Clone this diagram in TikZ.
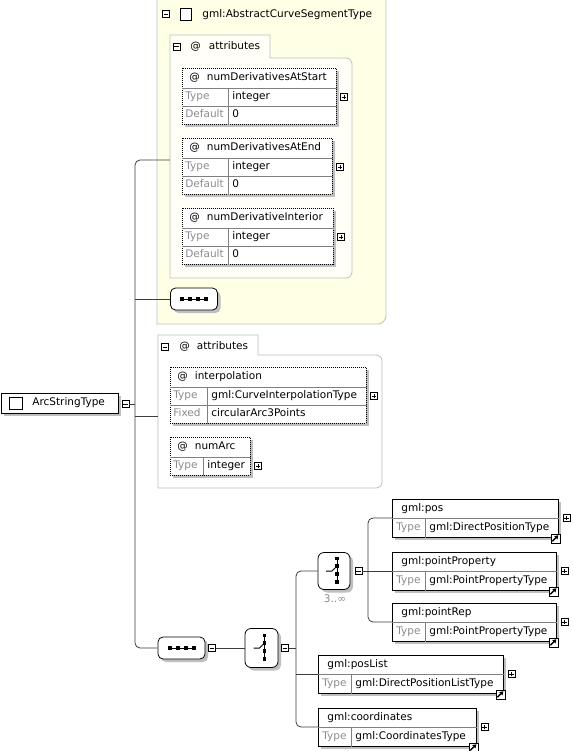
\documentclass[tikz,border=0pt]{standalone}
\usepackage{fontspec}
\setmainfont{DejaVu Sans}
\usetikzlibrary{shadows,arrows.meta,calc}

\definecolor{segfill}{RGB}{255,255,230}
\definecolor{grpfill}{RGB}{255,255,248}
\definecolor{grpline}{RGB}{190,190,190}
\definecolor{lblgray}{RGB}{140,140,140}
\definecolor{linegray}{RGB}{60,60,60}

\tikzset{
  txt/.style={anchor=west, inner sep=0pt, text height=7.5pt, text depth=2pt},
  lbl/.style={text=lblgray},
  sep/.style={draw=black!50},
  shade/.style={drop shadow={shadow xshift=3pt, shadow yshift=-3pt, fill=black!25, opacity=1}},
  attrbox/.style={draw, dash pattern=on 1pt off 1pt, fill=white, inner sep=0pt, shade},
  elembox/.style={draw, fill=white, inner sep=0pt, shade},
  checkbox/.style={draw, fill=white, minimum width=12pt, minimum height=12pt, inner sep=0pt},
  mbtn/.style={draw, fill=white, line width=0.6pt, minimum size=7pt, inner sep=0pt,
    path picture={\draw[black, line width=0.6pt] ([xshift=-2.2pt]path picture bounding box.center) -- ([xshift=2.2pt]path picture bounding box.center);}},
  pbtn/.style={draw, fill=white, line width=0.6pt, minimum size=7pt, inner sep=0pt,
    path picture={\draw[black, line width=0.6pt] ([xshift=-2.2pt]path picture bounding box.center) -- ([xshift=2.2pt]path picture bounding box.center)
      ([yshift=-2.2pt]path picture bounding box.center) -- ([yshift=2.2pt]path picture bounding box.center);}},
  linkbtn/.style={draw, fill=white, line width=0.6pt, minimum size=9pt, inner sep=0pt,
    path picture={\draw[black, line width=1.3pt, -{Triangle[length=3.5pt,width=4.5pt]}] ([shift={(-3pt,-3pt)}]path picture bounding box.center) -- ([shift={(3pt,3pt)}]path picture bounding box.center);}},
  seqnode/.style={rounded corners=5pt, draw, fill=white, minimum width=47pt, minimum height=22pt, inner sep=0pt, shade,
    path picture={
      \coordinate (pc) at (path picture bounding box.center);
      \draw[black, line width=1pt, sharp corners] ([xshift=-12pt]pc) -- ([xshift=12pt]pc);
      \fill[black, sharp corners] ([xshift=-12pt]pc) +(-2pt,-2pt) rectangle +(2pt,2pt);
      \fill[black, sharp corners] ([xshift=-4pt]pc) +(-2pt,-2pt) rectangle +(2pt,2pt);
      \fill[black, sharp corners] ([xshift=4pt]pc) +(-2pt,-2pt) rectangle +(2pt,2pt);
      \fill[black, sharp corners] ([xshift=12pt]pc) +(-2pt,-2pt) rectangle +(2pt,2pt);}},
  choicenode/.style={rounded corners=6pt, draw, fill=white, minimum width=32pt, minimum height=37pt, inner sep=0pt, shade,
    path picture={
      \coordinate (pc) at (path picture bounding box.center);
      \draw[black, line width=1pt, sharp corners] ([shift={(3pt,12.5pt)}]pc) -- ([shift={(3pt,-11pt)}]pc);
      \draw[black, line width=1pt, sharp corners] ([xshift=-8pt]pc) -- ([xshift=-2pt]pc) -- ([shift={(3pt,5pt)}]pc);
      \fill[black, sharp corners] ([shift={(3pt,12.5pt)}]pc) +(-1.8pt,-1.8pt) rectangle +(1.8pt,1.8pt);
      \fill[black, sharp corners] ([shift={(3pt,5pt)}]pc) +(-1.8pt,-1.8pt) rectangle +(1.8pt,1.8pt);
      \fill[black, sharp corners] ([shift={(3pt,-3pt)}]pc) +(-1.8pt,-1.8pt) rectangle +(1.8pt,1.8pt);
      \fill[black, sharp corners] ([shift={(3pt,-11pt)}]pc) +(-1.8pt,-1.8pt) rectangle +(1.8pt,1.8pt);}},
  conn/.style={draw=linegray, line width=0.8pt}
}

% name, x, y, width, split, title, type, second label, second value
\newcommand{\attrib}[9]{%
  \if\relax\detokenize{#8}\relax\def\attrh{38}\else\def\attrh{56}\fi
  \node[attrbox, minimum width=#4pt, minimum height=\attrh pt, anchor=north west] (#1) at (#2,#3) {};
  \draw[sep] ([yshift=-20pt]#1.north west) -- ([yshift=-20pt]#1.north east);
  \draw[sep] ([shift={(#5pt,-20pt)}]#1.north west) -- ([xshift=#5pt]#1.south west);
  \node[txt] at ([shift={(7pt,-10pt)}]#1.north west) {@\hspace{7pt}#6};
  \node[txt, lbl] at ([shift={(3pt,-29pt)}]#1.north west) {Type};
  \node[txt] at ([shift={(#5pt+4pt,-29pt)}]#1.north west) {#7};
  \node[pbtn] (#1p) at ([shift={(7pt,-29pt)}]#1.north east) {};
  \if\relax\detokenize{#8}\relax\else
    \draw[sep] ([yshift=-38pt]#1.north west) -- ([yshift=-38pt]#1.north east);
    \node[txt, lbl] at ([shift={(3pt,-47pt)}]#1.north west) {#8};
    \node[txt] at ([shift={(#5pt+4pt,-47pt)}]#1.north west) {#9};
  \fi
}

% name, x, y, width, title, type
\newcommand{\elemnode}[6]{%
  \node[elembox, minimum width=#4pt, minimum height=38pt, anchor=north west] (#1) at (#2,#3) {};
  \coordinate (#1s) at ([yshift=-19pt]#1.north west);
  \draw[sep] (#1s) -- ([yshift=-19pt]#1.north east);
  \draw[sep] ([xshift=33pt]#1s) -- ([xshift=33pt]#1.south west);
  \node[txt] at ([shift={(9pt,-9.5pt)}]#1.north west) {#5};
  \node[txt, lbl] at ([shift={(4pt,-28.5pt)}]#1.north west) {Type};
  \node[txt] at ([shift={(37pt,-28.5pt)}]#1.north west) {#6};
  \node[pbtn] (#1p) at ([shift={(7.5pt,-19pt)}]#1.north east) {};
  \node[linkbtn] (#1l) at ([shift={(-3.5pt,-0.5pt)}]#1.south east) {};
}

\begin{document}
\begin{tikzpicture}[x=1pt, y=-1pt, line width=0.8pt, font=\fontsize{10.5}{12}\selectfont]
  \useasboundingbox (0,0) rectangle (572,751);

  % base type
  \draw[grpline, fill=segfill] (157,-2) -- (386,-2) -- (386,316) .. controls (386,320.4) and (381.6,324) .. (378,324) -- (157,324) -- cycle;
  \node[mbtn] (segmin) at (165.8,14) {};
  \node[checkbox, minimum width=11pt] (segbox) at (185.5,14.5) {};
  \node[txt] (segname) at (202,14.5) {gml:AbstractCurveSegmentType};

  \draw[grpline, fill=grpfill] (170,35) -- (270,35) -- (270,58) -- (346,58) .. controls (349.3,58) and (352,60.7) .. (352,64) -- (352,272) .. controls (352,275.3) and (349.3,278) .. (346,278) -- (170,278) -- cycle;
  \node[mbtn] (grp1min) at (176.3,46.7) {};
  \node[txt] (grp1name) at (190,46.7) {@\hspace{8pt}attributes};
  \coordinate (grp1) at (170,160);

  \attrib{nstart}{182}{68}{154}{46}{numDerivativesAtStart}{integer}{Default}{0}
  \attrib{nend}{182}{138}{150}{46}{numDerivativesAtEnd}{integer}{Default}{0}
  \attrib{nint}{182}{208}{151}{46}{numDerivativeInterior}{integer}{Default}{0}

  \node[seqnode] (seq1) at (194,299) {};

  % own attributes
  \draw[grpline, fill=white] (158,335) -- (258,335) -- (258,355) -- (376,355) .. controls (379.3,355) and (382,357.7) .. (382,361) -- (382,482) .. controls (382,485.3) and (379.3,488) .. (376,488) -- (158,488) -- cycle;
  \node[mbtn] (grp2min) at (165,347) {};
  \node[txt] (grp2name) at (179,346.5) {@\hspace{7pt}attributes};
  \coordinate (grp2) at (158,416);

  \attrib{interp}{170}{367}{196}{37}{interpolation}{gml:CurveInterpolationType}{Fixed}{circularArc3Points}
  \attrib{narc}{170}{437}{80}{33}{numArc}{integer}{}{}

  % root
  \node[elembox, minimum width=117pt, minimum height=20pt, anchor=north west] (arc) at (1,393) {};
  \node[checkbox, minimum width=13pt] (arcbox) at (15.5,403) {};
  \node[txt] (arcname) at (32,403) {ArcStringType};
  \node[mbtn] (arcmin) at (125.5,404) {};
  \coordinate (spine) at (135,404);

  % content model
  \node[seqnode] (seq2) at (181.5,648) {};
  \node[mbtn] (seq2min) at (212,648) {};
  \node[choicenode, minimum width=33pt, minimum height=39pt] (choice) at (261.5,648) {};
  \node[mbtn] (choicemin) at (285,648) {};
  \coordinate (spine2) at (296,648);

  \node[choicenode] (choice2) at (334,571) {};
  \node[txt, lbl, anchor=center] (occ) at (335,600) {3..∞};
  \node[mbtn] (choice2min) at (358.5,571) {};
  \coordinate (spine3) at (368,571);

  \elemnode{pos}{392}{499}{166}{gml:pos}{gml:DirectPositionType}
  \elemnode{pprop}{392}{552}{164}{gml:pointProperty}{gml:PointPropertyType}
  \elemnode{prep}{392}{603}{164}{gml:pointRep}{gml:PointPropertyType}
  \elemnode{poslist}{318}{655}{185}{gml:posList}{gml:DirectPositionListType}
  \elemnode{coords}{318}{708}{158}{gml:coordinates}{gml:CoordinatesType}

  % connectors
  \draw[conn] (arcmin.east) -- (spine);
  \draw[conn, rounded corners=5pt] (grp1) -| (spine) |- (seq2.west);
  \draw[conn] (seq1.west -| spine) -- (seq1.west);
  \draw[conn] (grp2 -| spine) -- (grp2);
  \draw[conn] (seq2min.east) -- (choice.west);
  \draw[conn] (choicemin.east) -- (spine2);
  \draw[conn, rounded corners=5pt] (choice2.west) -| (spine2) |- (coordss);
  \draw[conn] (poslists -| spine2) -- (poslists);
  \draw[conn] (choice2min.east) -- (pprops);
  \draw[conn, rounded corners=5pt] (poss) -| (spine3) |- (preps);
\end{tikzpicture}
\end{document}
